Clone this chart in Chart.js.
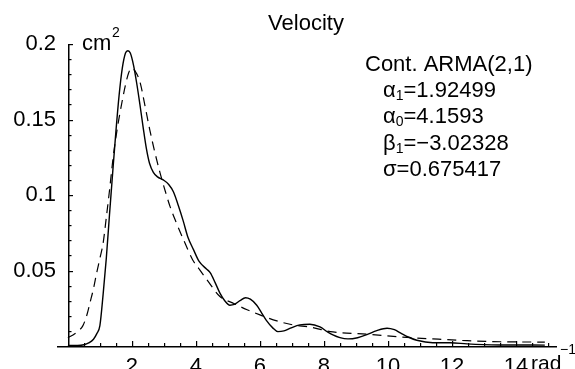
<!DOCTYPE html>
<html>
<head>
<meta charset="utf-8">
<script src="https://cdn.jsdelivr.net/npm/chart.js@4.4.1/dist/chart.umd.min.js"></script>
<style>
  body { margin: 0; background: #fff; }
  canvas { display: block; }
</style>
</head>
<body>
<canvas id="graph" width="575" height="369"></canvas>
<script>
// empirisk spektrum (fuldt optrukket)
let freq = [0, 0.3, 0.5, 0.65, 0.8, 0.9, 1.0, 1.1, 1.2, 1.3, 1.4, 1.5, 1.6, 1.7, 1.8, 1.875, 1.95, 2.05, 2.15, 2.25, 2.35, 2.45, 2.55, 2.67, 2.8, 2.98, 3.15, 3.3, 3.45, 3.6, 3.75, 3.92, 4.1, 4.33, 4.45, 4.6, 4.75, 4.9, 5.06, 5.2, 5.375, 5.55, 5.7, 5.9, 6.05, 6.2, 6.4, 6.56, 6.75, 6.95, 7.25, 7.56, 7.875, 8.1, 8.28, 8.5, 8.75, 9.05, 9.34, 9.65, 9.97, 10.2, 10.4, 10.65, 10.9, 11.4, 11.94, 12.47, 13.0, 13.5, 14.9];
let spectrum = [0.0003, 0.0003, 0.0008, 0.002, 0.0045, 0.008, 0.0135, 0.034, 0.058, 0.087, 0.115, 0.142, 0.166, 0.184, 0.194, 0.1955, 0.194, 0.186, 0.174, 0.16, 0.145, 0.131, 0.121, 0.115, 0.112, 0.11, 0.107, 0.102, 0.093, 0.083, 0.072, 0.064, 0.056, 0.051, 0.0485, 0.042, 0.035, 0.03, 0.027, 0.0275, 0.03, 0.032, 0.031, 0.027, 0.022, 0.017, 0.012, 0.0095, 0.01, 0.0118, 0.014, 0.0144, 0.0126, 0.0095, 0.0073, 0.0055, 0.0047, 0.0055, 0.0075, 0.0102, 0.0118, 0.0108, 0.0085, 0.0058, 0.0038, 0.0022, 0.0022, 0.0014, 0.0009, 0.0007, 0.0006];

// ARMA(2,1) fit (stiplet)
let fitFreq = [0, 0.16, 0.3, 0.47, 0.6, 0.69, 0.8, 0.9, 1.0, 1.1, 1.2, 1.3, 1.42, 1.55, 1.65, 1.8, 1.9, 2.0, 2.1, 2.25, 2.4, 2.56, 2.72, 2.875, 3.05, 3.19, 3.4, 3.6, 3.9, 4.1, 4.34, 4.75, 5.16, 5.6, 6.0, 6.53, 7.03, 7.56, 8.28, 9.34, 10.375, 11.4, 12.47, 13.5, 14.9];
let fitSpectrum = [0.0055, 0.0073, 0.0095, 0.0135, 0.021, 0.0286, 0.038, 0.0485, 0.058, 0.068, 0.085, 0.103, 0.126, 0.145, 0.157, 0.173, 0.181, 0.184, 0.182, 0.175, 0.16, 0.143, 0.128, 0.115, 0.102, 0.0925, 0.081, 0.071, 0.057, 0.051, 0.044, 0.0328, 0.0284, 0.024, 0.0206, 0.0166, 0.014, 0.0125, 0.0093, 0.0078, 0.006, 0.0047, 0.0035, 0.0028, 0.0026];

// tick labels
let xTickLabels = [2, 4, 6, 8, 10, 12, 14];
let yTickLabels = [0.05, 0.1, 0.15, 0.2];

// tekst
let title = 'Velocity';
let legendTitle = 'Cont. ARMA(2,1)';
let params = [
  ['α', '1', '=1.92499'],
  ['α', '0', '=4.1593'],
  ['β', '1', '=\u22123.02328'],
  ['σ', '', '=0.675417']
];

let font = 'Liberation Sans, Arial, Helvetica, sans-serif';
let size = 22;

// Tegner akser med små ticks indad, Mathematica-stil
let axesPlugin = {
  id: 'axes',
  afterDraw(chart) {
    let ctx = chart.ctx;
    let xs = chart.scales.x;
    let ys = chart.scales.y;
    let x0 = Math.round(xs.getPixelForValue(0));
    let y0 = Math.round(ys.getPixelForValue(0));
    let yTop = Math.round(ys.getPixelForValue(0.2));
    ctx.save();
    ctx.setLineDash([]);
    ctx.globalAlpha = 1;
    ctx.fillStyle = '#000';
    // x-akse og y-akse
    ctx.fillRect(chart.chartArea.left, y0, chart.chartArea.right - chart.chartArea.left, 1.5);
    ctx.fillRect(x0, yTop, 1.5, y0 - yTop + 1);
    // x ticks
    for (let i = 1; i <= 30; i++) {
      let px = Math.round(xs.getPixelForValue(i * 0.5));
      let len = (i % 4 === 0) ? 5 : 3;
      ctx.fillRect(px, y0 - len, 1.2, len);
    }
    // y ticks
    for (let i = 1; i <= 20; i++) {
      let py = Math.round(ys.getPixelForValue(i * 0.01));
      let len = (i % 5 === 0) ? 4 : 2.5;
      ctx.fillRect(x0 + 1, py, len, 1.2);
    }

    ctx.textBaseline = 'alphabetic';
    // titel
    ctx.font = size + 'px ' + font;
    ctx.textAlign = 'center';
    ctx.fillText(title, 306, 30);

    ctx.textAlign = 'left';
    // enhed y
    ctx.font = size + 'px ' + font;
    ctx.fillText('cm', 82, 50);
    ctx.font = '14px ' + font;
    ctx.fillText('2', 112, 37);
    // enhed x
    ctx.font = '21px ' + font;
    ctx.fillText('rad', 531, 370);
    ctx.font = '14px ' + font;
    ctx.fillText('\u22121', 560, 354);

    // legend tekst
    ctx.font = size + 'px ' + font;
    ctx.fillText(legendTitle, 365, 71);
    let baselines = [97, 123, 150, 176];
    params.forEach((p, i) => {
      let x = 383;
      ctx.font = size + 'px ' + font;
      ctx.fillText(p[0], x, baselines[i]);
      x += ctx.measureText(p[0]).width;
      if (p[1]) {
        ctx.font = '14px ' + font;
        ctx.fillText(p[1], x, baselines[i] + 3);
        x += ctx.measureText(p[1]).width;
      }
      ctx.font = size + 'px ' + font;
      ctx.fillText(p[2], x, baselines[i]);
    });
    ctx.restore();
  }
};

let graphEl = document.querySelector('#graph');

let graph = new Chart(graphEl, {
  type: 'line',
  data: {
    datasets: [
      {
        data: freq.map((f, i) => ({ x: f, y: spectrum[i] })),
        borderColor: '#000',
        borderWidth: 1.4,
        pointRadius: 0,
        cubicInterpolationMode: 'monotone',
        fill: false
      },
      {
        data: fitFreq.map((f, i) => ({ x: f, y: fitSpectrum[i] })),
        borderColor: '#000',
        borderWidth: 1.2,
        borderDash: [9, 6],
        pointRadius: 0,
        cubicInterpolationMode: 'monotone',
        fill: false
      }
    ]
  },
  options: {
    responsive: false,
    animation: false,
    layout: { padding: { top: 44, right: 18, left: 0, bottom: 0 } },
    plugins: {
      legend: { display: false },
      tooltip: { enabled: false }
    },
    scales: {
      x: {
        type: 'linear',
        min: -0.34,
        max: 15.28,
        grid: { display: false, drawTicks: false },
        border: { display: false },
        afterBuildTicks: s => { s.ticks = xTickLabels.map(v => ({ value: v })); },
        afterFit: s => { s.height = 23; },
        ticks: {
          color: '#000',
          font: { family: font, size: size },
          padding: 8,
          maxRotation: 0,
          autoSkip: false
        }
      },
      y: {
        type: 'linear',
        min: 0,
        max: 0.2,
        grid: { display: false, drawTicks: false },
        border: { display: false },
        afterBuildTicks: s => { s.ticks = yTickLabels.map(v => ({ value: v })); },
        afterFit: s => { s.width = 57; },
        ticks: {
          color: '#000',
          font: { family: font, size: size },
          padding: 1,
          callback: v => String(v)
        }
      }
    }
  },
  plugins: [axesPlugin]
});
</script>
</body>
</html>
